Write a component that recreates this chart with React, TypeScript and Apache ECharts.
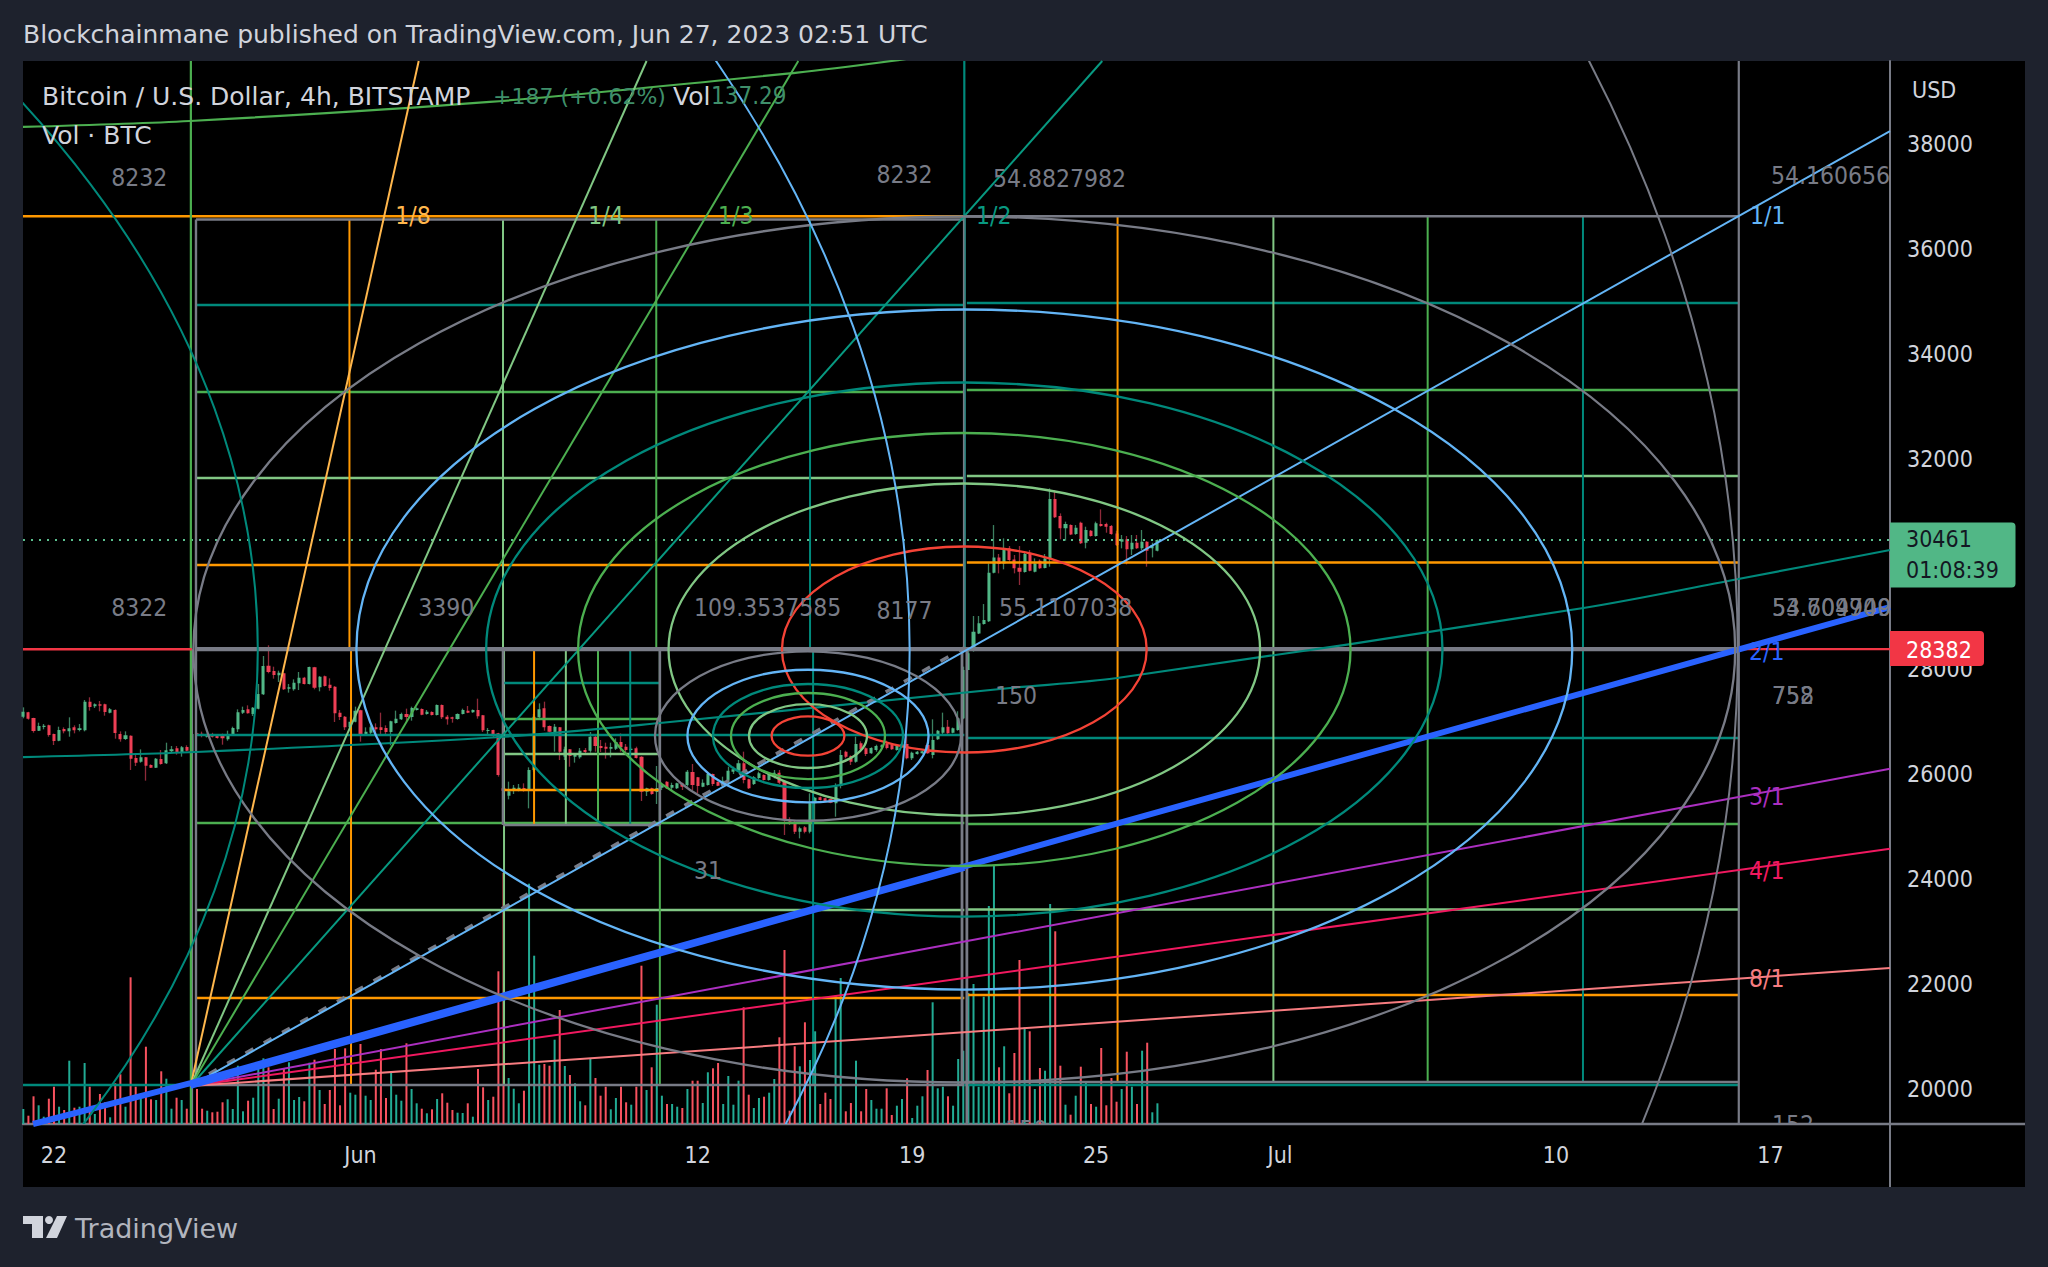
import React, { useEffect, useRef } from "react";
import * as echarts from "echarts";

const FONT = '"DejaVu Sans Condensed","Open Sans",sans-serif';
const TEXT_FONT = '"DejaVu Sans","Open Sans",sans-serif';
const xLabelBars = [6, 66, 132, 174, 210, 246, 300, 342];
const xLabelTexts = ["22", "Jun", "12", "19", "25", "Jul", "10", "17"];
const priceTicks = [20000, 22000, 24000, 26000, 28000, 30000, 32000, 34000, 36000, 38000];

// [open, close, low, high], one row per 4h bar
const candles = [
[27097,27193,27066,27275],[27180,27059,27040,27190],[27072,26825,26793,27077],[26831,26920,26825,26983],[26901,26926,26856,26958],[26932,26748,26716,26945],[26767,26634,26558,26775],[26640,26843,26630,26907],[26862,26818,26780,26894],[26818,26875,26716,27085],
[26894,26837,26780,26932],[26843,26875,26818,26958],[26837,27383,26818,27415],[27383,27281,27212,27466],[27294,27332,27262,27351],[27332,27307,27199,27396],[27332,27186,27116,27345],[27174,27237,27161,27262],[27224,26786,26678,27237],[26767,26666,26621,26818],
[26672,26742,26653,26818],[26736,26298,26082,26742],[26310,26221,26158,26399],[26240,26323,26221,26475],[26323,26164,25879,26330],[26177,26126,26120,26190],[26126,26298,26120,26310],[26291,26196,26183,26463],[26209,26456,26196,26602],[26437,26475,26412,26539],
[26494,26425,26374,26539],[26425,26513,26336,26539],[26520,26450,26437,26552],[26431,26767,26399,26932],[26780,26748,26735,26800],[26774,26742,26704,26812],[26716,26748,26700,26770],[26767,26716,26700,26790],[26729,26691,26680,26740],[26761,26685,26564,26775],
[26666,26748,26640,26831],[26742,26881,26735,26907],[26856,27180,26805,27237],[27174,27224,27148,27288],[27237,27161,27155,27313],[27148,27269,27110,27281],[27250,27529,27237,27720],[27523,28062,27510,28252],[28069,27948,27923,28456],[27967,27891,27821,28049],
[27885,27935,27758,27973],[27923,27618,27605,27935],[27631,27656,27555,27720],[27618,27745,27592,27808],[27732,27840,27605,27948],[27840,27720,27710,27855],[27720,28043,27710,28050],[28037,27650,27618,28045],[27656,27859,27580,27870],[27865,27681,27670,27880],
[27707,27643,27592,27827],[27669,27161,26996,27680],[27174,27091,27034,27224],[27097,26894,26843,27110],[26894,27002,26793,27097],[27002,27212,26990,27288],[27218,26767,26621,27230],[26767,26812,26742,26894],[26793,26894,26767,26932],[26894,26856,26748,26970],
[26894,26843,26742,27174],[26881,26805,26742,26932],[26805,27009,26552,27020],[26977,27059,26965,27212],[27047,27148,27034,27174],[27148,27091,27002,27250],[27091,27262,27021,27288],[27224,27256,27215,27275],[27243,27135,27125,27255],[27148,27193,27135,27224],
[27186,27129,27120,27200],[27129,27319,27120,27330],[27319,27085,27053,27330],[27097,27047,26945,27129],[27085,27059,26983,27097],[27053,27148,27040,27160],[27148,27224,27140,27250],[27212,27174,27165,27300],[27180,27224,27170,27235],[27224,27104,27059,27440],
[27123,26837,26805,27130],[26825,26843,26748,26881],[26843,26767,26704,26850],[26780,25987,25955,26790],[25733,25688,25670,25828],[25593,25676,25523,25860],[25688,25746,25625,25796],[25701,25746,25676,25815],[25739,25688,25670,25828],[25688,26082,25352,26133],
[26082,27097,26050,27150],[27085,27237,27072,27351],[27256,26894,26830,27383],[26919,26812,26800,26930],[26793,26907,26431,26958],[26894,26431,26272,26900],[26336,26475,26272,26526],[26475,26348,26145,26480],[26336,26367,26222,26399],[26323,26450,26298,26501],
[26463,26425,26387,26501],[26450,26716,26412,26805],[26716,26539,26431,26748],[26539,26501,26425,26653],[26526,26488,26298,26602],[26488,26520,26323,26602],[26488,26615,26463,26685],[26615,26513,26431,26780],[26526,26463,26399,26577],[26463,26488,26440,26520],
[26494,26310,26300,26526],[26336,25669,25492,26345],[25669,25733,25587,25745],[25733,25625,25610,25745],[25663,25739,25435,26158],[25745,25790,25700,25840],[25860,25733,25720,25870],[25746,25796,25701,25840],[25733,25828,25720,25840],[25828,25765,25701,25840],
[25796,26050,25765,26082],[26044,25796,25701,26196],[25942,25777,25638,25950],[25765,25841,25755,25904],[25796,26006,25785,26015],[26006,25815,25777,26015],[25853,25784,25775,25865],[25790,25879,25765,25955],[25879,26069,25841,26145],[26050,26095,26006,26145],
[26069,26209,26060,26272],[26209,25891,25828,26431],[25904,25733,25720,25915],[25815,25942,25796,25967],[25930,26018,25904,26050],[25987,25891,25880,26000],[25891,26006,25880,26015],[25980,26031,25923,26082],[26031,25841,25815,26082],[25860,25130,24844,25870],
[25130,25098,25035,25181],[25066,24908,24863,25130],[24908,24971,24781,25003],[24990,24908,24876,25016],[24908,25447,24876,25638],[25447,25555,25130,25570],[25562,25511,25500,25575],[25543,25492,25480,25555],[25530,25460,25450,25540],[25447,25765,25193,25828],
[25777,26367,25733,26463],[26431,26336,26304,26450],[26348,26240,26177,26360],[26240,26577,26221,26716],[26590,26475,26450,26628],[26494,26386,26348,26513],[26399,26501,26390,26515],[26463,26539,26431,26564],[26513,26552,26500,26570],[26577,26501,26475,26640],
[26558,26475,26465,26570],[26463,26539,26450,26550],[26513,26577,26500,26590],[26577,26304,26285,26729],[26304,26412,26272,26431],[26386,26431,26375,26445],[26399,26437,26390,26450],[26558,26399,26390,26570],[26367,26653,26304,27047],[26666,26830,26655,26845],
[26793,26894,26748,27174],[26907,26780,26770,27034],[26793,26875,26780,26890],[26843,27066,26830,27200],[27066,27986,27050,28050],[27986,28303,27986,28380],[28366,28715,28335,29014],[28683,28874,28670,29014],[28861,28937,28850,29242],[28912,29839,28900,30016],
[29839,30130,29826,30746],[30130,30004,29826,30194],[30016,30302,29902,30492],[30302,30080,30048,30346],[30092,29921,29826,30175],[29934,29857,29604,30346],[29851,30194,29840,30238],[30219,29877,29865,30270],[29857,30016,29845,30111],[30067,29921,29910,30092],
[29927,30111,29921,30194],[30111,31241,29953,31444],[31241,30892,30880,31413],[30917,30683,30473,30968],[30683,30765,30448,30810],[30746,30568,30555,30760],[30575,30695,30560,30746],[30791,30397,30385,30810],[30410,30651,30302,30714],[30638,30537,30525,30651],
[30537,30778,30525,30810],[30765,30727,30715,31044],[30765,30714,30600,30791],[30727,30575,30560,30746],[30587,30365,30346,30638],[30429,30473,30302,30556],[30473,30283,29997,30537],[30283,30410,30175,30556],[30410,30302,30290,30556],[30302,30429,30270,30651],
[30429,30257,29953,30440],[30302,30365,30130,30410],[30257,30461,30245,30473],
];

const volumes = [
150,83,277,187,73,253,373,173,140,633,163,173,610,373,100,300,217,67,407,497,173,1467,373,250,773,247,240,527,453,153,
263,240,153,367,350,153,133,117,123,217,247,150,583,127,233,263,567,657,567,150,253,550,617,240,270,227,613,643,340,200,
340,750,187,757,313,293,800,283,240,543,750,260,527,293,233,807,350,207,153,107,147,250,307,213,140,113,110,207,73,550,
367,240,273,1527,2513,460,353,207,333,2403,1683,593,600,583,843,1140,580,490,407,227,187,660,460,283,373,147,260,373,217,193,
373,1583,340,567,1193,283,200,200,173,160,350,433,433,210,517,557,610,200,480,193,433,1167,293,160,260,273,313,450,867,1740,
133,777,577,1017,640,927,200,313,250,1283,1460,127,210,633,127,350,240,153,153,357,90,183,250,457,60,183,277,540,1217,357,
373,277,183,650,733,1310,1400,373,1273,2180,2580,567,777,307,710,1640,967,927,350,560,533,2200,1927,583,193,93,283,573,417,200,
173,760,187,460,223,350,723,373,200,733,813,117,207,
];

const xMin = -0.06, xMax = 365.4, priceMin = 19342, priceMax = 39581;
const pivotPrice = 28382, lastPrice = 30461;

const TEAL = "#00897b", GREEN = "#4caf50", LIGHT = "#81c784", ORANGE = "#ff9800", GREY = "#787b86",
  SKY = "#64b5f6", RED = "#f44336", BLUE = "#2962ff", PURPLE = "#ab2fc0", PINK = "#f0185f", SALMON = "#f77c80", AMBER = "#ffb74d";
const levelColors = [TEAL, GREEN, LIGHT, ORANGE];
const columnColors = [ORANGE, LIGHT, GREEN, TEAL];

// Gann box quadrants
const boxLeft = 33.8, boxMid = 184.2, boxRight = 335.8, boxTopL = 36561, boxTopR = 36624, boxBottomL = 20084, boxBottomR = 20141;
const topLeftRows = [34935, 33279, 31641, 29985];
const topRightRows = [34973, 33317, 31680, 30033];
const bottomLeftRows = [26748, 25073, 23416, 21741];
const bottomRightRows = [26691, 25054, 23424, 21798];
const topLeftCols = [63.84, 93.9, 123.9, 154.0];
const bottomLeftCols = [64.15, 94.1, 124.6, 154.6];
const rightCols = [214.2, 244.7, 274.9, 305.3];
// small box
const smallLeft = 93.9, smallRight = 124.6, smallBottom = 25035;
const smallRows = [27738, 27053, 26386, 25701];
const smallCols = [99.98, 106.2, 112.5, 118.8];

// ellipses: [centre bar, centre price, bar radius, price radius]
const ringColors = [GREY, SKY, TEAL, GREEN, LIGHT, RED];
const mainRings = [[184.2,28376,150.9,8244],[184.2,28376,119,6474],[184.2,28376,93.6,5084],[184.2,28376,75.6,4122],[184.2,28376,57.9,3161],[184.2,28376,35.7,1961]];
const smallRings = [[153.6,26729,29.95,1613],[153.6,26729,23.6,1262],[153.6,26729,18.6,990],[153.6,26729,15.07,819],[153.6,26729,11.55,609],[153.6,26729,7.13,375]];
const bigRings = [[-370.7,28376,416.6,22753],[-370.7,28376,544.2,30500],[-370.7,28376,706.3,39300]];
const bigRingColors = [TEAL, SKY, GREY];

// long arcs
const tealArc = [[-0.06,26329],[33.8,26425],[93.3,26710],[124.6,26977],[193.2,27643],[214.1,27833],[305.4,29166],[335.7,29718],[365.4,30271]];
const greenArc = [[-0.06,38325],[32.6,38439],[91.3,38801],[151.5,39360],[170,39581],[178,39700]];

// fans
const fanOrigin = [32.75, 20065];
const fanEnds = [[77.4,39581,AMBER],[122,39581,LIGHT],[151.7,39581,GREEN],[211.2,39581,"#089981"],[365.4,38248,SKY],[365.4,26105,PURPLE],[365.4,24581,PINK],[365.4,22312,SALMON]];
const thickFan = [[1.9,19342],[32.75,20120],[365.4,29185]];
const thickFanLeft = [[32.75,20065],[184.2,24216]];
const dashedFan = [[32.75,20100],[184.2,28410]];

const annotations = [
  ["8232",17.2,37363,GREY],["8232",167,37411,GREY],["54.8827982",189.8,37353,GREY],["54.160656",342.1,37401,GREY],
  ["8322",17.2,29185,GREY],["3390",77.3,29185,GREY],["109.3537585",131.3,29185,GREY],["8177",167,29128,GREY],["55.1107038",191,29185,GREY],
  ["150",190.2,27491,GREY],["31",131.3,24178,GREY],["758",342.3,27491,GREY],["752",342.3,27491,GREY],["152",342.3,19333,GREY],["150",192.2,19230,GREY],
  ["53.709900",342.3,29185,GREY],["54.604749",342.3,29185,GREY],
  ["1/8",72.8,36640,AMBER],["1/4",110.6,36640,LIGHT],["1/3",136,36640,GREEN],["1/2",186.5,36640,"#089981"],
  ["1/1",338,36640,SKY],["2/1",337.8,28329,BLUE],["3/1",337.8,25568,PURPLE],["4/1",337.8,24178,PINK],["8/1",337.8,22121,SALMON],
];

type Pt = number[];
const line = (pts: Pt[], color: string, width = 2, extra: any = {}) => ({
  type: "line", data: pts, symbol: "none", silent: true, animation: false, z: 3,
  lineStyle: { color, width, ...extra }, ...(extra.smooth ? { smooth: extra.smooth } : {}),
});
const hLines = (rows: number[], x1: number, x2: number, colors: string[]) =>
  rows.map((p, i) => line([[x1, p], [x2, p]], colors[i], 2.5));
const vLines = (cols: number[], p1: number, p2: number, colors: string[]) =>
  cols.map((x, i) => line([[x, p1], [x, p2]], colors[i], 2));

const ringSeries = (rows: number[][], colors: string[], width: number) => ({
  type: "custom", coordinateSystem: "cartesian2d", clip: true, silent: true, z: 4,
  data: rows.map((r) => [...r]),
  encode: { x: 0, y: 1 },
  renderItem: (p: any, api: any) => {
    const r = rows[p.dataIndex];
    const c = api.coord([r[0], r[1]]);
    const e = api.coord([r[0] + r[2], r[1] + r[3]]);
    return { type: "ellipse", shape: { cx: c[0], cy: c[1], rx: Math.abs(e[0] - c[0]), ry: Math.abs(e[1] - c[1]) },
      style: { fill: "none", stroke: colors[p.dataIndex], lineWidth: width } };
  },
});

function buildOption() {
  const upFill = "#51b786", downFill = "#ee3f55", upWick = "#3c8060", downWick = "#8f2a3a";
  const candleRows = candles.map((c, i) => [i, c[0], c[1], c[2], c[3]]);
  const series: any[] = [
    { type: "bar", yAxisIndex: 1, barWidth: 2, silent: true, z: 1,
      data: volumes.map((v, i) => ({ value: [i, v],
        itemStyle: { color: candles[i][1] >= candles[i][0] ? "#22ab94" : "#f7525f" } })) },
    { type: "candlestick", data: candleRows, barWidth: 1, silent: true, z: 2,
      itemStyle: { color: upWick, color0: downWick, borderColor: upWick, borderColor0: downWick, borderWidth: 1.3 } },
    { type: "candlestick", data: candleRows, barWidth: 3.6, silent: true, z: 2,
      itemStyle: { color: upFill, color0: downFill, borderColor: upFill, borderColor0: downFill, borderWidth: 0 } },
    line([[xMin, lastPrice], [xMax, lastPrice]], "#5bc08f", 1.8, { type: [2, 6] }),

    // quadrants grid
    ...hLines(topLeftRows, boxLeft, boxMid, levelColors),
    ...hLines(topRightRows, boxMid + 0.5, boxRight, levelColors),
    ...hLines(bottomLeftRows, boxLeft, boxMid, levelColors),
    ...hLines(bottomRightRows, boxMid + 0.5, boxRight, levelColors),
    ...vLines(topLeftCols, boxTopL, pivotPrice, columnColors),
    ...vLines(bottomLeftCols, pivotPrice, boxBottomL, columnColors),
    ...vLines(rightCols, boxTopR, pivotPrice, columnColors),
    ...vLines(rightCols, pivotPrice, boxBottomR, columnColors),
    // small box
    ...hLines(smallRows, smallLeft, smallRight, levelColors),
    ...vLines(smallCols, pivotPrice, smallBottom, columnColors),
    line([[smallLeft, smallBottom], [smallRight, smallBottom]], GREY, 2.6),
    line([[smallLeft, pivotPrice], [smallLeft, smallBottom]], GREY, 2.6),
    line([[smallRight, pivotPrice], [smallRight, smallBottom]], GREY, 2.6),

    // outer frame
    line([[xMin, boxTopR], [boxMid, boxTopR]], ORANGE, 2.5),
    line([[boxLeft, boxTopL], [boxMid, boxTopL]], GREY, 2.5),
    line([[boxMid, boxTopR], [boxRight, boxTopR]], GREY, 2.5),
    line([[boxLeft, boxBottomL], [boxMid, boxBottomL]], GREY, 2.5),
    line([[boxMid, boxBottomR], [boxRight, boxBottomR]], GREY, 2.5),
    line([[xMin, boxBottomL], [33, boxBottomL]], TEAL, 2.5),
    line([[boxMid, boxBottomL], [boxRight, boxBottomL]], TEAL, 2.5),
    line([[boxLeft, boxTopL], [boxLeft, boxBottomL]], GREY, 2.4),
    line([[33, pivotPrice], [33, priceMin]], GREY, 2.4),
    line([[32.8, priceMax], [32.8, priceMin]], GREEN, 2.2),
    line([[boxMid, priceMax], [boxMid, boxTopR]], TEAL, 2.2),
    line([[boxMid, boxTopR], [boxMid, pivotPrice]], GREY, 2.8),
    line([[boxMid + 0.15, boxTopR], [boxMid + 0.15, pivotPrice]], TEAL, 1),
    line([[183.75, pivotPrice], [183.75, boxBottomL]], GREY, 2.8),
    line([[184.7, pivotPrice], [184.7, priceMin]], GREY, 2.8),
    line([[boxRight, priceMax], [boxRight, priceMin]], GREY, 2.2),
    line([[boxLeft, pivotPrice], [boxRight, pivotPrice]], GREY, 4.2),
    line([[xMin, pivotPrice], [33, pivotPrice]], "#f23645", 2.5),
    line([[boxRight, pivotPrice], [xMax, pivotPrice]], "#f23645", 2.2),

    // rings
    ringSeries(mainRings, ringColors, 2.3),
    ringSeries(smallRings, ringColors, 2.3),
    ringSeries(bigRings, bigRingColors, 2),
    line(tealArc, TEAL, 2.2, { smooth: 0.3 }),
    line(greenArc, GREEN, 2.2, { smooth: 0.3 }),

    // fans
    line(dashedFan, GREY, 3.4, { type: [9, 12] }),
    ...fanEnds.map((f) => line([fanOrigin, [f[0] as number, f[1] as number]], f[2] as string, 2)),
    line(thickFanLeft, BLUE, 5.5),
    line(thickFan, BLUE, 6),

    // annotations
    { type: "custom", coordinateSystem: "cartesian2d", clip: true, silent: true, z: 6,
      data: annotations.map((a) => [a[1], a[2]]), encode: { x: 0, y: 1 },
      renderItem: (p: any, api: any) => {
        const a = annotations[p.dataIndex];
        const c = api.coord([a[1], a[2]]);
        return { type: "text", x: c[0], y: c[1],
          style: { text: a[0], fill: a[3], font: `24.5px ${FONT}`, align: "left", verticalAlign: "middle" } };
      } },
  ];

  const headerText = (text: string, x: number, y: number, fill: string, size = 23, family = TEXT_FONT) => ({
    type: "text", x, y, z: 50, silent: true, style: { text, fill, font: `${size}px ${family}`, align: "left", verticalAlign: "middle" } });

  return {
    animation: false,
    backgroundColor: "#1e222d",
    grid: { left: 23, top: 61, width: 1867, height: 1063, containLabel: false },
    xAxis: { type: "value", min: xMin, max: xMax, splitLine: { show: false },
      axisLine: { show: true, lineStyle: { color: GREY, width: 2.4 }, onZero: false },
      axisTick: { show: false },
      axisLabel: { customValues: xLabelBars, margin: 19, color: "#d1d4dc", fontFamily: FONT, fontSize: 23,
        formatter: (v: number) => xLabelTexts[xLabelBars.indexOf(v)] ?? "" } },
    yAxis: [
      { type: "value", position: "right", min: priceMin, max: priceMax, splitLine: { show: false },
        axisLine: { show: true, onZero: false, lineStyle: { color: GREY, width: 2 } }, axisTick: { show: false },
        axisLabel: { customValues: priceTicks, margin: 17, color: "#d1d4dc", fontFamily: FONT, fontSize: 23,
          formatter: (v: number) => String(v) } },
      { type: "value", min: 0, max: 10630, show: false, splitLine: { show: false } },
    ],
    series,
    graphic: { elements: [
      { type: "rect", z: -10, silent: true, shape: { x: 23, y: 61, width: 2002, height: 1126 }, style: { fill: "#000" } },
      { type: "line", z: 1, silent: true, shape: { x1: 1890, y1: 1124, x2: 2025, y2: 1124 }, style: { stroke: GREY, lineWidth: 2.4 } },
      { type: "line", z: 1, silent: true, shape: { x1: 1890, y1: 1124, x2: 1890, y2: 1187 }, style: { stroke: GREY, lineWidth: 2 } },

      headerText("Blockchainmane published on TradingView.com, Jun 27, 2023 02:51 UTC", 23, 34, "#d1d4dc", 25),
      headerText("Bitcoin / U.S. Dollar, 4h, BITSTAMP", 42, 96, "#d1d4dc", 25),
      headerText("+187 (+0.62%)", 493, 96, "#3f8f6a", 22),
      headerText("Vol", 673, 96, "#d1d4dc", 25),
      headerText("137.29", 711, 96, "#3f8f6a", 24, FONT),
      headerText("Vol · BTC", 42, 135, "#d1d4dc", 25),
      headerText("USD", 1912, 90, "#d1d4dc", 23, FONT),

      { type: "rect", z: 40, silent: true, shape: { x: 1890, y: 522.5, width: 125.5, height: 65, r: [0, 4, 4, 0] }, style: { fill: "#51b786" } },
      headerText("30461", 1906, 539, "#131722", 23, FONT),
      headerText("01:08:39", 1906, 570, "#131722", 23, FONT),
      { type: "rect", z: 40, silent: true, shape: { x: 1890, y: 631, width: 94, height: 35, r: [0, 4, 4, 0] }, style: { fill: "#f23645" } },
      headerText("28382", 1906, 650, "#fff", 23, FONT),

      { type: "rect", z: 50, silent: true, shape: { x: 23, y: 1216, width: 20, height: 8 }, style: { fill: "#d1d4dc" } },
      { type: "rect", z: 50, silent: true, shape: { x: 32, y: 1216, width: 11, height: 22 }, style: { fill: "#d1d4dc" } },
      { type: "circle", z: 50, silent: true, shape: { cx: 49, cy: 1220, r: 4 }, style: { fill: "#d1d4dc" } },
      { type: "polygon", z: 50, silent: true, shape: { points: [[57, 1216], [67, 1216], [57, 1238], [46, 1238]] }, style: { fill: "#d1d4dc" } },
      headerText("TradingView", 75, 1228, "#b2b5be", 27),
    ] },
  };
}

export default function App() {
  const ref = useRef<HTMLDivElement>(null);
  useEffect(() => {
    document.body.style.margin = "0";
    document.body.style.background = "#1e222d";
    const chart = echarts.init(ref.current!, undefined, { renderer: "svg" });
    chart.setOption(buildOption() as any);
    return () => chart.dispose();
  }, []);
  return <div ref={ref} style={{ width: 2048, height: 1267 }} />;
}
